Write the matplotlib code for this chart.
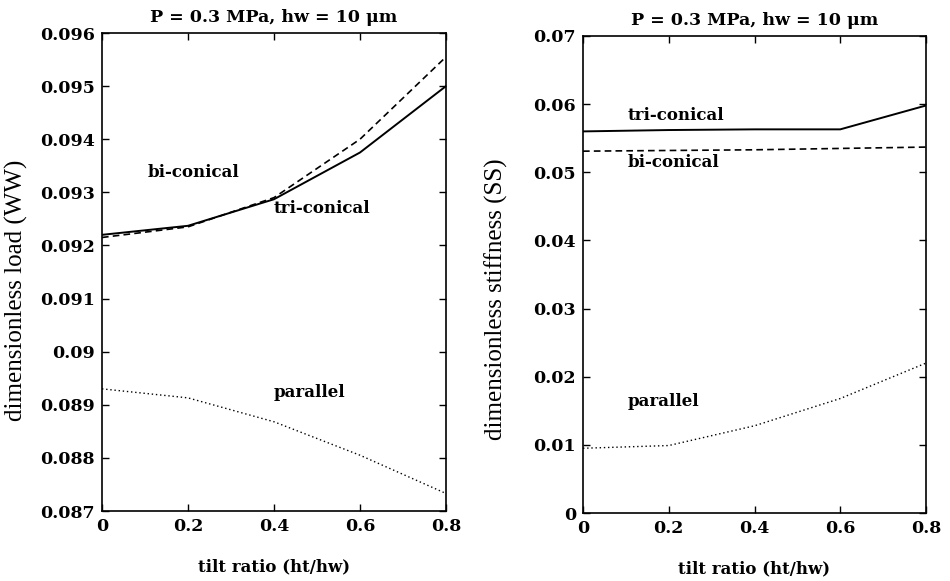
import matplotlib
matplotlib.use("Agg")
import matplotlib.pyplot as plt
import numpy as np

plt.rcParams['font.family'] = ['DejaVu Serif']

tilt = [0, 0.2, 0.4, 0.6, 0.8]

# dimensionless load (WW)
load_tri = [0.0922, 0.09237, 0.09287, 0.09375, 0.0950]
load_bi = [0.09215, 0.09235, 0.0929, 0.0940, 0.09555]
load_par = [0.0893, 0.08913, 0.08868, 0.08805, 0.08733]

# dimensionless stiffness (SS)
stiff_tri = [0.0560, 0.0562, 0.0563, 0.0563, 0.0598]
stiff_bi = [0.0531, 0.0532, 0.0533, 0.0535, 0.0537]
stiff_par = [0.0095, 0.0099, 0.0128, 0.0168, 0.0220]

title = "P = 0.3 MPa, hw = 10 \u03bcm"

W, H = 950, 581
fig = plt.figure(figsize=(W / 100, H / 100), dpi=100)
ax1 = fig.add_axes([102 / W, 1 - 511 / H, 344 / W, 478 / H])
ax2 = fig.add_axes([583 / W, 1 - 513 / H, 343 / W, 477 / H])


def style(ax, ylabel, ylim, yticks, yticklabels, ylab_x, ylab_y):
    ax.set_xlim(0, 0.8)
    ax.set_ylim(*ylim)
    ax.set_xticks(tilt)
    ax.set_xticklabels(["0", "0.2", "0.4", "0.6", "0.8"])
    ax.set_yticks(yticks)
    ax.set_yticklabels(yticklabels)
    ax.tick_params(direction="in", top=True, right=True, length=5, width=1,
                   labelsize=12.5, pad=5)
    for lbl in ax.get_xticklabels() + ax.get_yticklabels():
        lbl.set_fontweight("bold")
    for s in ax.spines.values():
        s.set_linewidth(1.2)
    ax.set_title(title, fontsize=12.5, fontweight="bold", pad=8)
    ax.set_xlabel("tilt ratio (ht/hw)", fontsize=12, fontweight="bold")
    ax.xaxis.set_label_coords(0.5, -47 / 478)
    ax.set_ylabel(ylabel, fontsize=18, family="Liberation Serif")
    ax.yaxis.set_label_coords(ylab_x, ylab_y)


ax1.plot(tilt, load_tri, color="black", lw=1.4, ls="-")
ax1.plot(tilt, load_bi, color="black", lw=1.2, ls=(0, (4, 2.5)))
ax1.plot(tilt, load_par, color="black", lw=1.0, ls=(0, (1, 2)))
style(ax1, "dimensionless load (WW)", (0.087, 0.096),
      [0.087, 0.088, 0.089, 0.09, 0.091, 0.092, 0.093, 0.094, 0.095, 0.096],
      ["0.087", "0.088", "0.089", "0.09", "0.091", "0.092", "0.093", "0.094",
       "0.095", "0.096"], -74 / 344, 0.462)
ax1.text(0.105, 0.09338, "bi-conical", fontsize=12, fontweight="bold", va="center")
ax1.text(0.40, 0.09269, "tri-conical", fontsize=12, fontweight="bold", va="center")
ax1.text(0.40, 0.08924, "parallel", fontsize=12, fontweight="bold", va="center")

ax2.plot(tilt, stiff_tri, color="black", lw=1.4, ls="-")
ax2.plot(tilt, stiff_bi, color="black", lw=1.2, ls=(0, (4, 2.5)))
ax2.plot(tilt, stiff_par, color="black", lw=1.0, ls=(0, (1, 2)))
style(ax2, "dimensionless stiffness (SS)", (0, 0.07),
      [0, 0.01, 0.02, 0.03, 0.04, 0.05, 0.06, 0.07],
      ["0", "0.01", "0.02", "0.03", "0.04", "0.05", "0.06", "0.07"],
      -75 / 343, 0.449)
ax2.text(0.103, 0.0584, "tri-conical", fontsize=12, fontweight="bold", va="center")
ax2.text(0.103, 0.0514, "bi-conical", fontsize=12, fontweight="bold", va="center")
ax2.text(0.103, 0.0163, "parallel", fontsize=12, fontweight="bold", va="center")

fig.savefig("out.png", dpi=100)
